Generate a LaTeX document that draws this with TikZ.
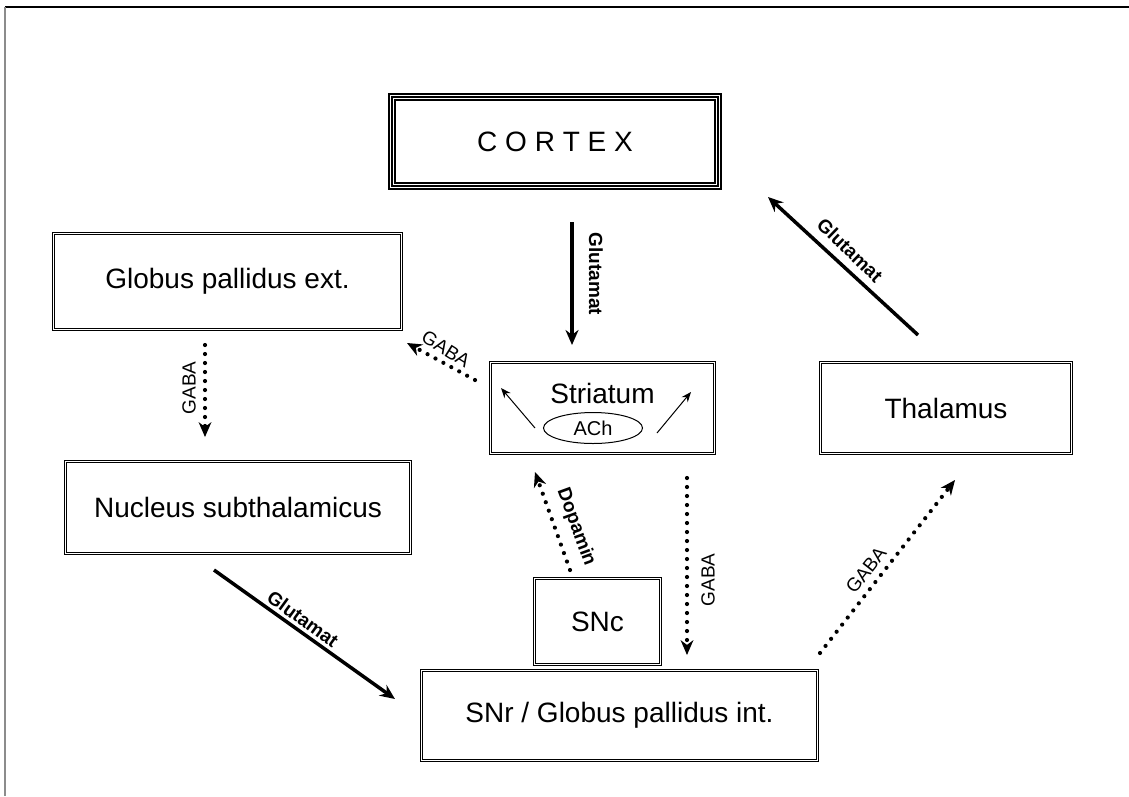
\documentclass[tikz,border=0pt]{standalone}
\usepackage{fontspec}
\setmainfont{Liberation Sans}
\usetikzlibrary{shapes.geometric, arrows.meta}
\tikzstyle{box} = [rectangle, draw=black, line width=0.8pt, double, double distance=1.6pt, inner sep=0pt, text centered, font=\fontsize{28}{32}\selectfont]
\tikzstyle{cortexbox} = [rectangle, draw=black, line width=8pt, postaction={draw=white, line width=4pt}, postaction={draw=black, line width=1.2pt}, inner sep=0pt, font=\fontsize{28}{32}\selectfont]
\tikzstyle{glu} = [line width=3.5pt, -{Stealth[length=15pt,width=13pt]}]
\tikzstyle{gaba} = [line width=4.2pt, line cap=round, dash pattern=on 0pt off 9pt, -{Stealth[length=15pt,width=13pt,line width=0pt]}]
\tikzstyle{small} = [line width=1pt, -{Stealth[length=10pt,width=8pt]}]
\tikzstyle{lab} = [font=\fontsize{19}{22}\selectfont, inner sep=1pt]
\tikzstyle{labb} = [font=\fontsize{19}{22}\selectfont\bfseries, inner sep=1pt]

\begin{document}
\begin{tikzpicture}[x=1pt, y=-1pt]
  \useasboundingbox (0,0) rectangle (1129,796);
  \draw [line width=2.5pt] (5,7) -- (1129,7);
  \draw [line width=1.5pt, black!45] (5,7) -- (5,796);

  % boxes
  \node (cortex) [cortexbox, minimum width=326pt, minimum height=89pt] at (555,141.5) {C O R T E X};
  \node (gpe) [box, minimum width=347.8pt, minimum height=95.8pt] at (227.5,281.5) {Globus pallidus ext.};
  \node (nst) [box, minimum width=344.8pt, minimum height=91.8pt] at (238,507.5) {Nucleus subthalamicus};
  \node (striatum) [box, minimum width=223.8pt, minimum height=90.8pt, label={[anchor=north, yshift=-17pt, font=\fontsize{28}{32}\selectfont]north:Striatum}] at (602.5,408) {};
  \node (thalamus) [box, minimum width=250.8pt, minimum height=90.8pt] at (946,408) {Thalamus};
  \node (snc) [box, minimum width=125.8pt, minimum height=85.8pt] at (597.5,621.5) {SNc};
  \node (snr) [box, minimum width=395.8pt, minimum height=89.8pt] at (619.5,715.5) {SNr / Globus pallidus int.};

  % ACh inside striatum
  \node (ach) [ellipse, draw, line width=1pt, minimum width=99pt, minimum height=31pt, inner sep=0pt, font=\fontsize{20}{24}\selectfont] at (593,428) {ACh};
  \coordinate (achl) at (535,428);
  \coordinate (achr) at (657,433);
  \coordinate (strl) at (501,388);
  \coordinate (strr) at (691,392);
  \draw [small] (achl) -- (strl);
  \draw [small] (achr) -- (strr);

  % connector ends
  \coordinate (c1) at (572,222);
  \coordinate (s1) at (572,345);
  \coordinate (t1) at (918,335);
  \coordinate (c2) at (768,197);
  \coordinate (n1) at (214,570);
  \coordinate (r1) at (395,699);
  \coordinate (s2) at (475,380);
  \coordinate (g1) at (407,343);
  \coordinate (g2) at (205,345);
  \coordinate (n2) at (205,437);
  \coordinate (s3) at (687,478);
  \coordinate (r2) at (687,655);
  \coordinate (r3) at (820,653);
  \coordinate (t2) at (955,480);
  \coordinate (p1) at (570,570);
  \coordinate (s4) at (535,472);

  \draw [glu] (c1) -- (s1);
  \draw [glu] (t1) -- (c2);
  \draw [glu] (n1) -- (r1);
  \draw [gaba] (s2) -- (g1);
  \draw [gaba] (g2) -- (n2);
  \draw [gaba] (s3) -- (r2);
  \draw [gaba] (r3) -- (t2);
  \draw [gaba] (p1) -- (s4);

  % labels
  \node (lglu1) [labb, rotate=-90] at (596,274) {Glutamat};
  \node (lglu2) [labb, rotate=-44] at (850,250) {Glutamat};
  \node (lglu3) [labb, rotate=-36] at (303,619) {Glutamat};
  \node (ldop) [labb, rotate=-70] at (576,527) {Dopamin};
  \node (lgaba1) [lab, rotate=-32] at (446,349) {GABA};
  \node (lgaba2) [lab, rotate=90] at (189,388) {GABA};
  \node (lgaba3) [lab, rotate=90] at (708,580) {GABA};
  \node (lgaba4) [lab, rotate=52] at (866,570) {GABA};
\end{tikzpicture}
\end{document}
